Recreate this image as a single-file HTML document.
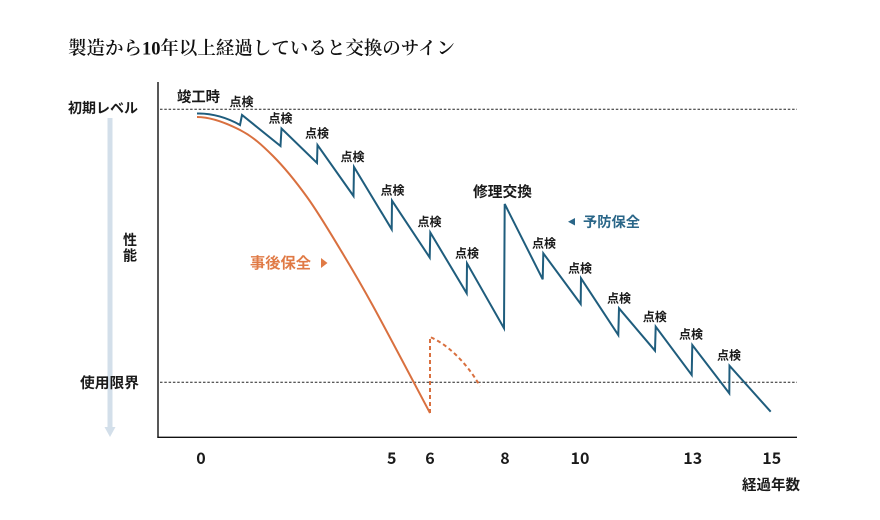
<!DOCTYPE html>
<html>
<head>
<meta charset="utf-8">
<style>
html,body{margin:0;padding:0;background:#fff;}
svg{display:block;}
.s{font-family:"Liberation Sans","Noto Sans CJK JP",sans-serif;font-weight:600;fill:#1a1a1a;}
.t{font-family:"Liberation Serif","Noto Serif CJK SC",serif;font-weight:600;fill:#111;}
.k{font-size:12px;}
.n{font-family:"Noto Sans CJK JP","Liberation Sans",sans-serif;font-size:16px;font-weight:600;fill:#1a1a1a;}
</style>
</head>
<body>
<svg width="880" height="520" viewBox="0 0 880 520" xmlns="http://www.w3.org/2000/svg">
<rect width="880" height="520" fill="#fff"/>
<!-- title -->
<text class="t" x="68" y="54.5" font-size="18.5" textLength="387" lengthAdjust="spacing">製造から10年以上経過していると交換のサイン</text>

<!-- performance arrow -->
<rect x="107.5" y="118" width="5" height="310" fill="#d3dfea"/>
<polygon points="104.5,427 115.5,427 110,437" fill="#d3dfea"/>

<!-- axes -->
<line x1="158" y1="82" x2="158" y2="437.5" stroke="#111" stroke-width="1.4"/>
<line x1="157.3" y1="437.3" x2="797" y2="437.3" stroke="#111" stroke-width="1.4"/>

<!-- dotted reference lines -->
<line x1="160" y1="109.3" x2="797" y2="109.3" stroke="#222" stroke-width="1" stroke-dasharray="2.5,1.8"/>
<line x1="160" y1="382.3" x2="797" y2="382.3" stroke="#222" stroke-width="1" stroke-dasharray="2.5,1.8"/>

<!-- orange (事後保全) -->
<path d="M197,117 C212,117 227.3,123.5 240,130 C252.7,136.5 261.8,144.8 273,156 C284.2,167.2 295.8,181.5 307,197 C318.2,212.5 329,230.8 340,249 C351,267.2 358,278.7 373,306 C388,333.3 420.5,395.2 430,413" fill="none" stroke="#d9703f" stroke-width="2"/>
<path d="M430,413 L430,337 C445,343 465,360 480,386" fill="none" stroke="#d9703f" stroke-width="2" stroke-dasharray="4,3"/>

<!-- blue (予防保全) -->
<path d="M197,113.5 C212,113 228,118 240,125 L242,115 L280.5,146 L281.5,128.5 L317,163 L317.5,145 L353.5,196 L354,167 L391.7,229.3 L392,200.7 L429.7,257.5 L430.3,232.5 L466.7,293.3 L467,263.3 L504,328.3 L504.7,204 L542.7,279.3 L543.3,253.3 L580.7,304 L581,278.3 L618.3,335 L619,308.3 L655,350.7 L655.7,326.7 L691.7,375 L692.3,345 L729.3,393.3 L729.5,365.7 L770.7,411.7" fill="none" stroke="#1f5d7d" stroke-width="2" stroke-linejoin="miter"/>

<!-- left labels -->
<text class="s" x="68" y="113" font-size="14" textLength="70" lengthAdjust="spacingAndGlyphs">初期レベル</text>
<text class="s" x="123" y="245" font-size="14">性</text>
<text class="s" x="123" y="260.5" font-size="14">能</text>
<text class="s" x="80" y="388" font-size="14.5" textLength="59" lengthAdjust="spacingAndGlyphs">使用限界</text>

<!-- in-chart labels -->
<text class="s" x="177" y="102" font-size="14.5" textLength="43" lengthAdjust="spacingAndGlyphs">竣工時</text>
<text class="s" x="473" y="197" font-size="14.5" textLength="59" lengthAdjust="spacingAndGlyphs">修理交換</text>

<text class="s" x="250" y="268" font-size="15" style="fill:#e07a45" textLength="61" lengthAdjust="spacingAndGlyphs">事後保全</text>
<polygon points="321,258 321,268 327.5,263" fill="#e07a45"/>

<polygon points="575,218 575,225.5 568,221.7" fill="#2a6688"/>
<text class="s" x="583" y="227" font-size="14.3" style="fill:#2a6688" textLength="57" lengthAdjust="spacingAndGlyphs">予防保全</text>

<!-- 点検 labels -->
<g class="s k" text-anchor="middle">
<text x="241.5" y="106">点検</text>
<text x="280.5" y="122.6">点検</text>
<text x="317" y="137.6">点検</text>
<text x="352.5" y="161">点検</text>
<text x="392.5" y="194.3">点検</text>
<text x="429.5" y="226">点検</text>
<text x="467" y="257.6">点検</text>
<text x="544" y="247.6">点検</text>
<text x="580" y="272.6">点検</text>
<text x="619" y="302.6">点検</text>
<text x="654.7" y="321">点検</text>
<text x="691" y="338.3">点検</text>
<text x="729" y="359.3">点検</text>
</g>

<!-- x ticks -->
<g class="n" text-anchor="middle">
<text x="201" y="464">0</text>
<text x="391.7" y="464">5</text>
<text x="430" y="464">6</text>
<text x="505" y="464">8</text>
<text x="580" y="464">10</text>
<text x="692.7" y="464">13</text>
<text x="771.7" y="464">15</text>
</g>
<text class="s" x="742" y="490" font-size="14.5" textLength="58" lengthAdjust="spacingAndGlyphs">経過年数</text>
</svg>
</body>
</html>
